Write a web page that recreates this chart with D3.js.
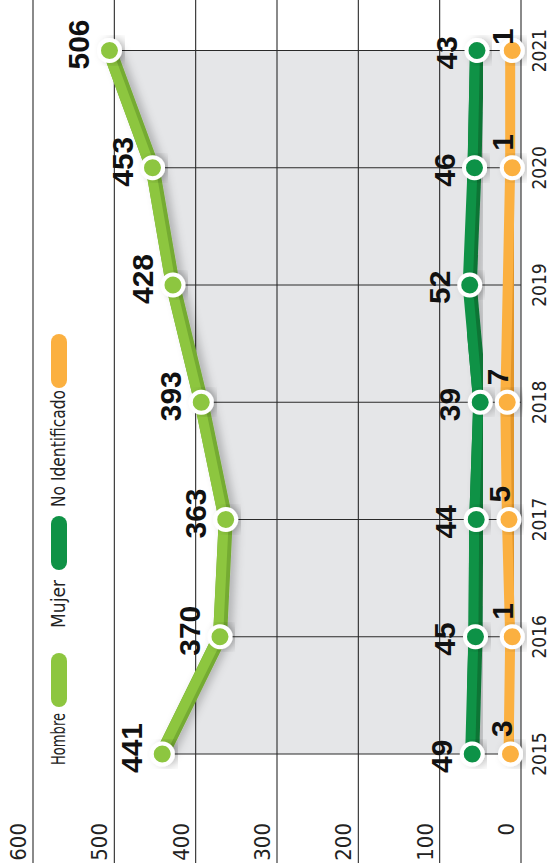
<!DOCTYPE html>
<html>
<head>
<meta charset="utf-8">
<script src="https://cdn.jsdelivr.net/npm/d3@7"></script>
<style>
  body { margin: 0; background: #fff; }
  svg { display: block; }
  .thin { font-family: 'Liberation Sans Narrow', 'DejaVu Sans Condensed', sans-serif; font-stretch: condensed; fill: #222; }
  .num { font-family: 'Liberation Sans', Arial, sans-serif; font-weight: bold; fill: #111; }
</style>
</head>
<body>
<svg id="graf" width="550" height="863"></svg>
<script>
// data
const years = ["2015", "2016", "2017", "2018", "2019", "2020", "2021"];
const hombre = [441, 370, 363, 393, 428, 453, 506];
const mujer = [49, 45, 44, 39, 52, 46, 43];
const noIdent = [3, 1, 5, 7, null, 1, 1];
const valueTicks = [0, 100, 200, 300, 400, 500, 600];
const legendLabels = ["Hombre", "Mujer", "No Identificado"];

const W = 863, H = 550;   // chart is drawn sideways, then turned

const svg = d3.select("#graf");

const defs = svg.append("defs");
const f = defs.append("filter").attr("id", "shadow")
    .attr("x", "-20%").attr("y", "-20%").attr("width", "140%").attr("height", "140%");
f.append("feDropShadow")
    .attr("dx", 0).attr("dy", 5)
    .attr("stdDeviation", 4.5)
    .attr("flood-color", "#000")
    .attr("flood-opacity", 0.22);

const g = svg.append("g")
    .attr("transform", `translate(0,${W}) rotate(-90)`);

const xScale = d3.scalePoint()
    .domain(years)
    .range([109, 812.5]);
const yScale = d3.scaleLinear()
    .domain([0, 600])
    .range([521, 33]);

// grey area under Hombre
const area = d3.area()
    .x((d, i) => xScale(years[i]))
    .y0(yScale(0))
    .y1(d => yScale(d));
g.append("path")
    .attr("d", area(hombre))
    .attr("fill", "#e5e6e8");

// value grid lines
g.selectAll(".vgrid")
    .data(valueTicks)
    .enter()
    .append("line")
    .attr("x1", 0).attr("x2", W)
    .attr("y1", d => yScale(d)).attr("y2", d => yScale(d))
    .attr("stroke", "#2a2a2a")
    .attr("stroke-width", 1.1);

// year grid lines from Hombre point to zero
g.selectAll(".ygrid")
    .data(years)
    .enter()
    .append("line")
    .attr("x1", d => xScale(d)).attr("x2", d => xScale(d))
    .attr("y1", (d, i) => yScale(hombre[i])).attr("y2", yScale(0))
    .attr("stroke", "#2a2a2a")
    .attr("stroke-width", 1.1);

// value tick labels
g.selectAll(".vlab")
    .data(valueTicks)
    .enter()
    .append("text")
    .attr("class", "thin")
    .attr("x", 40)
    .attr("y", d => yScale(d) - 7)
    .attr("text-anchor", "end")
    .attr("font-size", 22)
    .text(d => d);

// year labels
g.selectAll(".xlab")
    .data(years)
    .enter()
    .append("text")
    .attr("class", "thin")
    .attr("x", d => xScale(d))
    .attr("y", 546)
    .attr("text-anchor", "middle")
    .attr("font-size", 19)
    .text(d => d);

// series
const series = [
    {values: hombre, color: "#8dc63f", edge: "#74ab33", shift: 0, labelAbove: true},
    {values: mujer, color: "#0f9246", edge: "#0a7436", shift: -9, labelAbove: true},
    {values: noIdent, color: "#fbb040", edge: "#e2962c", shift: -8, labelAbove: false}
];

const line = d3.line()
    .x(d => xScale(d.year))
    .y(d => yScale(d.value));

series.slice().reverse().forEach(s => {
    const pts = years.map((y, i) => ({year: y, value: s.values[i]}))
        .filter(d => d.value !== null);
    const sg = g.append("g").attr("transform", `translate(0,${s.shift})`);

    sg.append("path")
        .attr("d", line(pts))
        .attr("fill", "none")
        .attr("stroke", s.edge)
        .attr("stroke-width", 14)
        .attr("stroke-linejoin", "round")
        .attr("filter", "url(#shadow)");
    sg.append("path")
        .attr("d", line(pts))
        .attr("fill", "none")
        .attr("stroke", s.color)
        .attr("stroke-width", 10)
        .attr("stroke-linejoin", "round")
        .attr("transform", "translate(0,-2)");

    sg.selectAll(".dot")
        .data(pts)
        .enter()
        .append("circle")
        .attr("cx", d => xScale(d.year))
        .attr("cy", d => yScale(d.value))
        .attr("r", 10.5)
        .attr("fill", s.color)
        .attr("stroke", "#fff")
        .attr("stroke-width", 4)
        .attr("filter", "url(#shadow)");

    sg.selectAll(".lab")
        .data(pts)
        .enter()
        .append("text")
        .attr("class", "num")
        .attr("font-size", 30)
        .attr("x", d => s.labelAbove ? xScale(d.year) - 19 : Math.min(xScale(d.year) + 17, 818))
        .attr("y", d => s.labelAbove ? yScale(d.value) - 20 : yScale(d.value) + 1)
        .text(d => d.value);
});

// legend
const colors = ["#8dc63f", "#0f9246", "#fbb040"];
const legendText = [98, 235, 356];
const legendWidth = [52, 48, 117];
const legendPill = [156, 293, 475];
legendLabels.forEach((name, i) => {
    g.append("text")
        .attr("class", "thin")
        .attr("x", legendText[i])
        .attr("y", 65)
        .attr("font-size", 19)
        .attr("textLength", legendWidth[i])
        .attr("lengthAdjust", "spacingAndGlyphs")
        .text(name);
    g.append("rect")
        .attr("x", legendPill[i]).attr("y", 51)
        .attr("width", 54).attr("height", 16)
        .attr("rx", 8)
        .attr("fill", colors[i]);
});
</script>
</body>
</html>
